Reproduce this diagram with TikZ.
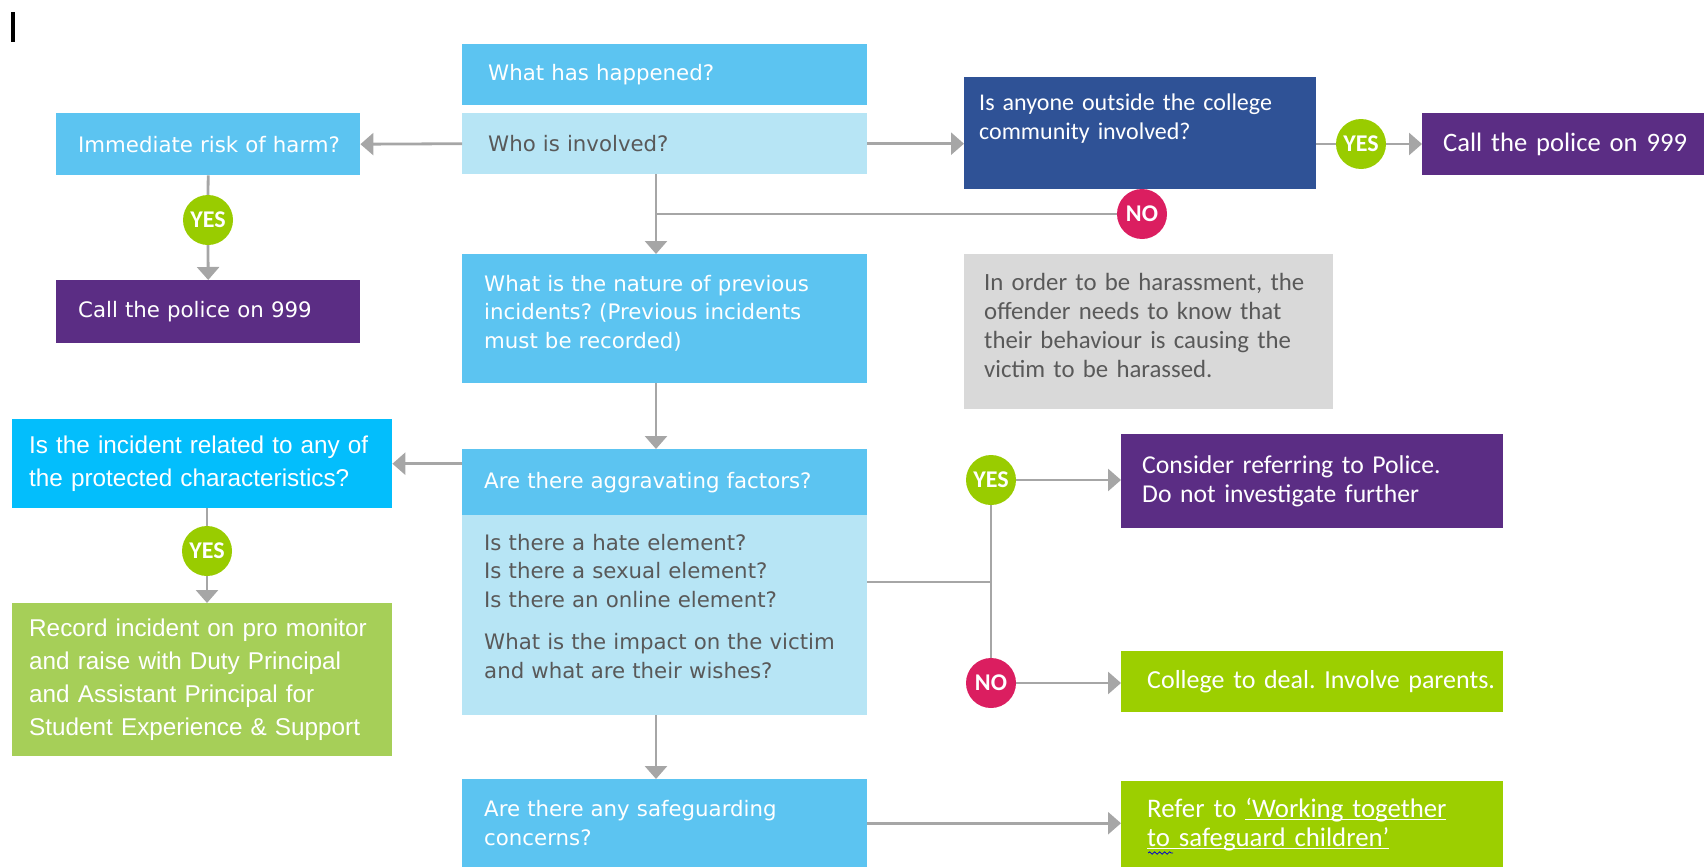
\documentclass[tikz,border=0pt]{standalone}
\usepackage{fontspec}
\usepackage{tikz}
\usetikzlibrary{arrows.meta,calc,decorations.pathmorphing}
\newfontfamily\vfont{DejaVu Sans}
\newfontfamily\cfont{Carlito}
\newfontfamily\afont{Liberation Sans}
\definecolor{headblue}{RGB}{92,196,241}
\definecolor{paleblue}{RGB}{183,229,245}
\definecolor{brightcyan}{RGB}{3,190,252}
\definecolor{navy}{RGB}{47,82,150}
\definecolor{plum}{RGB}{91,45,132}
\definecolor{lime}{RGB}{156,207,0}
\definecolor{leaf}{RGB}{166,207,88}
\definecolor{yesgreen}{RGB}{153,204,0}
\definecolor{nored}{RGB}{219,30,96}
\definecolor{notegray}{RGB}{217,217,217}
\definecolor{linegray}{RGB}{166,166,166}
\definecolor{inkgray}{RGB}{89,89,89}
\frenchspacing

\begin{document}
\begin{tikzpicture}[x=1pt,y=-1pt,
    box/.style n args={3}{anchor=north west, inner sep=0pt, text width=#1,
      minimum height=#2, align=left, execute at begin node={\leftskip=#3\relax}},
    vtext/.style={font=\vfont\fontsize{21.3}{28.7}\selectfont},
    ctext/.style={font=\cfont\fontsize{#1}{29}\selectfont},
    atext/.style={font=\afont\fontsize{24.3}{33.3}\selectfont},
    answer/.style={circle, minimum size=50pt, inner sep=0pt, text=white,
      font=\cfont\bfseries\fontsize{24}{24}\selectfont},
    connector/.style={draw=linegray, line width=2.8pt},
    thin connector/.style={draw=linegray, line width=2.2pt},
    arrowline/.style={connector, -{Triangle[length=13pt,width=22pt]}}]
    \useasboundingbox (0,0) rectangle (1704,867);
    \clip (0,0) rectangle (1704,867);
    % text cursor in the corner
    \fill[black] (11,12) rectangle (15,42);

    % top row
    \node[box={405pt}{61pt}{26pt}, fill=headblue, text=white, vtext] (happened) at (462,44) {What has happened?};
    \node[box={405pt}{61pt}{26pt}, fill=paleblue, text=inkgray, vtext] (involved) at (462,113) {Who is involved?};
    \node[box={304pt}{62pt}{22pt}, fill=headblue, text=white, vtext] (risk) at (56,113) {Immediate risk of harm?};
    \node[box={304pt}{63pt}{22pt}, fill=plum, text=white, vtext] (police1) at (56,280) {Call the police on 999};
    \node[box={352pt}{112pt}{15pt}, fill=navy, text=white, ctext=24, text height=33pt, text depth=79pt] (outside) at (964,77) {Is anyone outside the college\\community involved?};
    \node[box={300pt}{62pt}{21pt}, fill=plum, text=white, ctext=26.6] (police2) at (1422,113) {Call the police on 999};
    \node[box={369pt}{155pt}{20pt}, fill=notegray, text=inkgray, ctext=24.8, text height=36pt, text depth=119pt] (note) at (964,254) {In order to be harassment, the\\offender needs to know that\\their behaviour is causing the\\victim to be harassed.};
    \node[box={405pt}{129pt}{22pt}, fill=headblue, text=white, vtext, text height=37pt, text depth=92pt] (previous) at (462,254) {What is the nature of previous\\incidents? (Previous incidents\\must be recorded)};

    % middle column
    \node[box={405pt}{66pt}{22pt}, fill=headblue, text=white, vtext] (aggr) at (462,449) {Are there aggravating factors?};
    \node[box={405pt}{200pt}{22pt}, fill=paleblue, text=inkgray, vtext, text height=35pt, text depth=165pt] (factors) at (462,515) {Is there a hate element?\\Is there a sexual element?\\Is there an online element?\\[13pt]What is the impact on the victim\\and what are their wishes?};
    \node[box={405pt}{88pt}{22pt}, fill=headblue, text=white, vtext] (safe) at (462,779) {Are there any safeguarding\\concerns?};

    % left column
    \node[box={380pt}{89pt}{17pt}, fill=brightcyan, text=white, atext] (protected) at (12,419) {Is the incident related to any of\\the protected characteristics?};
    \node[box={380pt}{153pt}{17pt}, fill=leaf, text=white, atext] (record) at (12,603) {Record incident on pro monitor\\and raise with Duty Principal\\and Assistant Principal for\\Student Experience \& Support};

    % right column
    \node[box={382pt}{94pt}{21pt}, fill=plum, text=white, ctext=25.7] (consider) at (1121,434) {Consider referring to Police.\\Do not investigate further};
    \node[box={382pt}{61pt}{26pt}, fill=lime, text=white, ctext=26] (college) at (1121,651) {College to deal. Involve parents.};
    \node[box={382pt}{86pt}{26pt}, fill=lime, text=white, ctext=26.8] (refer) at (1121,781) {Refer to \underline{\smash{‘Working together}}\\\underline{\smash{to safeguard children’}}};
    \draw[blue!80!black, line width=0.8pt, decorate, decoration={snake, amplitude=1.2pt, segment length=5pt}] (1148,853) -- (1173,853);

    % answers
    \node[answer, fill=yesgreen] (yes1) at (208,220) {YES};
    \node[answer, fill=yesgreen] (yes2) at (1361,144) {YES};
    \node[answer, fill=nored] (no1) at (1142,214) {NO};
    \node[answer, fill=yesgreen] (yes3) at (207,551) {YES};
    \node[answer, fill=yesgreen] (yes4) at (991,480) {YES};
    \node[answer, fill=nored] (no2) at (991,683) {NO};

    % connectors
    \coordinate (spine) at (656,0);
    \draw[arrowline] (involved.west) -- (risk.east);
    \draw[arrowline] (involved.east) -- (involved.east -| outside.west);
    \draw[connector] (risk.south) -- (yes1.north);
    \draw[arrowline] (yes1.south) -- (police1.north);
    \draw[connector] (yes2 -| outside.east) -- (yes2.west);
    \draw[arrowline] (yes2.east) -- (yes2.east -| police2.west);
    \draw[arrowline] (involved.south -| spine) -- (previous.north -| spine);
    \draw[connector] (no1.west) -- (no1.west -| spine);
    \draw[arrowline] (previous.south -| spine) -- (aggr.north -| spine);
    \draw[arrowline] (protected.east -| aggr.west) -- (protected.east);
    \draw[connector] (protected.south -| yes3) -- (yes3.north);
    \draw[arrowline] (yes3.south) -- (record.north -| yes3);
    \coordinate (fork) at ($(aggr.north east)!.5!(factors.south east)$);
    \draw[thin connector] (fork) -- (fork -| yes4);
    \draw[thin connector] (yes4.south) -- (no2.north);
    \draw[arrowline] (yes4.east) -- (yes4.east -| consider.west);
    \draw[arrowline] (no2.east) -- (no2.east -| college.west);
    \draw[arrowline] (factors.south -| spine) -- (safe.north -| spine);
    \draw[arrowline] (safe.east) -- (safe.east -| refer.west);
\end{tikzpicture}
\end{document}
